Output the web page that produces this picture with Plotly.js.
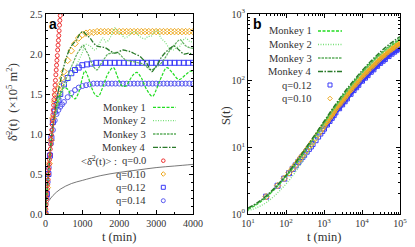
<!DOCTYPE html>
<html><head><meta charset="utf-8">
<script src="https://cdn.plot.ly/plotly-3.0.1.min.js"></script>
<style>html,body{margin:0;padding:0;background:#fff}#c{width:415px;height:247px}</style>
</head><body><div id="c"></div>
<script>
// ---------- Panel a data (t in min, delta^2 in 1e5 m^2) ----------
const m1T=[0,50,100,150,200,300,400,500,600,700,800,900,1000,1070,1150,1250,1350,1430,1550,1700,1840,1950,2075,2180,2290,2400,2480,2600,2750,2900,3000,3150,3290,3450,3620,3800,3950,4000];
const m1V=[0,0.33,0.62,0.88,1.1,1.35,1.5,1.58,1.56,1.48,1.44,1.52,1.7,1.79,1.72,1.58,1.49,1.47,1.58,1.76,1.83,1.72,1.6,1.6,1.68,1.75,1.77,1.7,1.55,1.47,1.55,1.72,1.83,1.76,1.68,1.74,1.79,1.76];
const m2T=[0,50,100,150,200,300,393,500,664,780,881,1000,1071,1207,1342,1450,1559,1640,1722,1800,1885,1960,2051,2150,2238,2330,2427,2550,2698,2780,2861,2940,3024,3130,3241,3350,3458,3550,3648,3730,3811,3900,4000];
const m2V=[0,0.33,0.62,0.88,1.1,1.32,1.45,1.58,1.7,1.8,1.9,2.02,2.12,2.1,2.05,2.12,2.2,2.15,2.18,2.25,2.33,2.27,2.25,2.2,2.22,2.26,2.28,2.22,2.19,2.22,2.22,2.27,2.3,2.2,2.15,2.08,2.05,2.08,2.1,2.17,2.2,2.16,2.15];
const m3T=[0,50,100,150,200,300,393,500,664,760,854,940,1017,1090,1153,1220,1288,1340,1397,1460,1532,1610,1695,1820,1939,2050,2156,2290,2427,2520,2617,2740,2861,2980,3105,3240,3376,3510,3648,3730,3811,3900,4000];
const m3V=[0,0.33,0.62,0.88,1.1,1.3,1.45,1.62,1.8,1.9,2.0,2.06,2.11,2.05,2.0,1.92,1.85,1.82,1.8,1.84,1.9,1.95,2.0,2.01,2.02,1.98,1.93,1.91,1.9,1.89,1.88,1.84,1.8,1.83,1.87,1.95,2.05,2.12,2.18,2.14,2.1,2.08,2.07];
const m4T=[0,50,100,150,200,300,400,500,600,700,846,930,1017,1110,1207,1300,1397,1500,1614,1750,1885,2000,2100,2200,2292,2430,2563,2650,2726,2800,2888,2970,3051,3130,3214,3350,3485,3620,3756,3890,4000];
const m4V=[0,0.33,0.62,0.88,1.1,1.42,1.65,1.85,2.0,2.1,2.18,2.25,2.28,2.24,2.2,2.14,2.1,2.09,2.08,2.04,2.01,2.03,2.05,2.04,2.03,2.0,1.97,1.93,1.9,1.84,1.78,1.83,1.88,1.95,2.0,2.06,2.1,2.05,2.0,2.01,1.99];
const q00T=[0,10,20,30,40,50,60,70,80,90,100,110,120,130,140,150,160,170,180,190,200,210,220,230,240,250,260,270,280,290,300,310,320,330,340,350,360,370,380,390,400];
const q00V=[0,0.06,0.12,0.19,0.25,0.31,0.37,0.43,0.5,0.56,0.62,0.68,0.74,0.81,0.87,0.93,0.99,1.05,1.12,1.18,1.24,1.3,1.36,1.43,1.49,1.55,1.61,1.67,1.74,1.8,1.86,1.92,1.98,2.05,2.11,2.17,2.23,2.29,2.36,2.42,2.48];
const q10T=[0,50,100,150,200,250,300,350,400,450,500,600,700,800,900,1000,1100,1200,1300,1400,1500,1600,1700,1800,1900,2000,2100,2200,2300,2400,2500,2600,2700,2800,2900,3000,3100,3200,3300,3400,3500,3600,3700,3800,3900,4000];
const q10V=[0,0.33,0.63,0.92,1.2,1.4,1.5,1.56,1.62,1.7,1.78,1.92,2.04,2.13,2.2,2.24,2.26,2.27,2.27,2.28,2.28,2.28,2.28,2.28,2.28,2.28,2.28,2.28,2.28,2.28,2.28,2.28,2.28,2.28,2.28,2.28,2.28,2.28,2.28,2.28,2.28,2.28,2.28,2.28,2.28,2.28];
const q12T=[0,40,80,120,160,200,250,300,350,400,500,600,700,800,900,1000,1125,1250,1375,1500,1625,1750,1875,2000,2125,2250,2375,2500,2625,2750,2875,3000,3125,3250,3375,3500,3625,3750,3875,4000];
const q12V=[0,0.25,0.5,0.73,0.95,1.15,1.28,1.36,1.42,1.5,1.62,1.7,1.76,1.8,1.83,1.86,1.87,1.88,1.89,1.89,1.89,1.89,1.89,1.89,1.89,1.89,1.89,1.89,1.89,1.89,1.89,1.89,1.89,1.89,1.89,1.89,1.89,1.89,1.89,1.89];
const q14T=[0,30,60,90,120,150,200,250,300,350,400,450,500,600,700,800,900,1000,1100,1200,1300,1400,1500,1600,1700,1800,1900,2000,2100,2200,2300,2400,2500,2600,2700,2800,2900,3000,3100,3200,3300,3400,3500,3600,3700,3800,3900,4000];
const q14V=[0,0.2,0.4,0.58,0.74,0.88,1.05,1.17,1.25,1.3,1.34,1.37,1.4,1.46,1.51,1.55,1.58,1.6,1.61,1.62,1.63,1.63,1.63,1.63,1.63,1.63,1.63,1.63,1.63,1.63,1.63,1.63,1.63,1.63,1.63,1.63,1.63,1.63,1.63,1.63,1.63,1.63,1.63,1.63,1.63,1.63,1.63,1.63];
const blkT=[0,20,50,100,200,400,700,1000,1500,2000,2500,3000,3500,4000];
const blkV=[0,0.08,0.13,0.17,0.23,0.31,0.38,0.42,0.48,0.52,0.55,0.58,0.6,0.62];

// ---------- Panel b data (S(t)) ----------
const sT=[10,17.8,31.6,56.2,100,178,316,562,1000,1778,3162,5623,10000,17783,31623,56234,100000];
const s1=[1.17,1.41,1.82,2.51,3.63,5.5,8.71,14.1,23.4,38,60.3,91.2,135,191,257,331,417];
const s2=[1.12,1.26,1.51,2.0,2.82,4.27,7.08,12.0,20.9,35.5,56.2,85.1,126,178,245,324,417];
const s3=[1.2,1.45,1.86,2.57,3.72,5.62,8.91,14.1,22.9,37.2,57.5,89.1,132,186,257,339,430];
const s4=[1.23,1.48,1.91,2.63,3.8,5.89,9.33,15.1,24.5,39.8,63.1,95.5,141,200,275,363,457];
const sqT=[30,60,90,120,150,180,210,240,270,300,350,400,450,500,600,700,800,900,1000,1200,1400,1600,1800,2000,2500,3000,3500,4000,5000,6000,7000,8000,10000,12000,14000,17000,20000,25000,30000,35000,40000,50000,60000,70000,80000,90000,100000];
const sq12=[1.82,2.65,3.39,4.09,4.75,5.36,6.0,6.59,7.16,7.71,8.61,9.48,10.3,11.2,12.8,14.5,16.1,17.6,19.1,22.0,24.9,27.7,30.4,33.5,38.6,44.1,49.1,54.1,63.5,72.1,79.6,86.7,100,111,121,136,148,167,185,199,211,234,254,272,287,302,316];
const sq10=[1.82,2.66,3.43,4.17,4.86,5.51,6.21,6.86,7.5,8.13,9.12,10.1,11.0,12.0,13.8,15.7,17.5,19.2,20.9,24.2,27.5,30.6,33.7,37.2,43.2,49.3,55.2,61.0,71.9,81.8,90.8,99.1,115,128,140,157,171,194,215,232,247,274,298,318,337,355,372];

const xTickB=[10,100,1000,10000,100000];
const xTickBText=['10<sup>1</sup>','10<sup>2</sup>','10<sup>3</sup>','10<sup>4</sup>','10<sup>5</sup>'];
const yTickB=[1,10,100,1000];
const yTickBText=['10<sup>0</sup>','10<sup>1</sup>','10<sup>2</sup>','10<sup>3</sup>'];

// ---------- styles ----------
const C1='#22dd22', C2='#77e077', C3='#5fae5f', C4='#2a7a2a';
const D1='3px,1.5px', D2='1px,1.5px', D3='2.5px,1px', D4='5px,1.5px,1.5px,1.5px';
const RED='#ee3333', ORG='#eeaa22', BLU='#3a3af8', BLU2='#5a5af0';
const SERIF='Liberation Serif';
const TXT='#333';

const bandStart=18; // dense region of the marker series (t >= 1000) drawn as a thick band
const traces=[
 {x:blkT,y:blkV,mode:'lines',line:{color:'#555',width:0.8,shape:'spline'},xaxis:'x',yaxis:'y'},
 {x:q14T,y:q14V,mode:'markers',marker:{symbol:'circle-open',size:5,color:BLU2,line:{width:1}},xaxis:'x',yaxis:'y'},
 {x:q12T,y:q12V,mode:'markers',marker:{symbol:'square-open',size:5,color:BLU,line:{width:1}},xaxis:'x',yaxis:'y'},
 {x:q10T,y:q10V,mode:'markers',marker:{symbol:'diamond-open',size:5,color:ORG,line:{width:1}},xaxis:'x',yaxis:'y'},
 {x:m1T,y:m1V,mode:'lines',line:{color:C1,width:1.2,dash:D1,shape:'spline'},xaxis:'x',yaxis:'y'},
 {x:m2T,y:m2V,mode:'lines',line:{color:C2,width:1.2,dash:D2,shape:'spline'},xaxis:'x',yaxis:'y'},
 {x:m3T,y:m3V,mode:'lines',line:{color:C3,width:1.2,dash:D3,shape:'spline'},xaxis:'x',yaxis:'y'},
 {x:m4T,y:m4V,mode:'lines',line:{color:C4,width:1.3,dash:D4,shape:'spline'},xaxis:'x',yaxis:'y'},
 {x:q00T,y:q00V,mode:'markers',marker:{symbol:'circle-open',size:4,color:RED,line:{width:1}},xaxis:'x',yaxis:'y'},
 // panel b
 {x:sqT.slice(bandStart),y:sq12.slice(bandStart),mode:'lines',line:{color:BLU,width:4.5,shape:'spline'},xaxis:'x2',yaxis:'y2'},
 {x:sqT,y:sq12,mode:'markers',marker:{symbol:'square-open',size:5,color:BLU,line:{width:1}},xaxis:'x2',yaxis:'y2'},
 {x:sqT.slice(bandStart),y:sq10.slice(bandStart),mode:'lines',line:{color:ORG,width:3.5,shape:'spline'},xaxis:'x2',yaxis:'y2'},
 {x:sqT,y:sq10,mode:'markers',marker:{symbol:'diamond-open',size:5,color:ORG,line:{width:1}},xaxis:'x2',yaxis:'y2'},
 {x:sT,y:s1,mode:'lines',line:{color:C1,width:1.3,dash:D1,shape:'spline'},xaxis:'x2',yaxis:'y2'},
 {x:sT,y:s2,mode:'lines',line:{color:C2,width:1.3,dash:D2,shape:'spline'},xaxis:'x2',yaxis:'y2'},
 {x:sT,y:s3,mode:'lines',line:{color:C3,width:1.3,dash:D3,shape:'spline'},xaxis:'x2',yaxis:'y2'},
 {x:sT,y:s4,mode:'lines',line:{color:C4,width:1.5,dash:D4,shape:'spline'},xaxis:'x2',yaxis:'y2'}
];

const W=415,H=247;
const px=x=>x/W, py=y=>1-y/H;
const tickFont={family:SERIF,size:10,color:TXT};
const axBase={showline:true,linecolor:'#000',linewidth:1,mirror:'allticks',ticks:'inside',ticklen:4,tickcolor:'#000',showgrid:false,zeroline:false,tickfont:tickFont,fixedrange:true};

const minorLog=[];
for(let e=0;e<5;e++){for(let k=2;k<10;k++){minorLog.push(k*Math.pow(10,e));}}

const shapes=[], ann=[];
function legLine(x0,x1,y,color,dash){shapes.push({type:'line',xref:'paper',yref:'paper',x0:px(x0),x1:px(x1),y0:py(y),y1:py(y),line:{color:color,width:1.3,dash:dash}});}
function legCircle(x,y,r,color){shapes.push({type:'circle',xref:'paper',yref:'paper',x0:px(x-r),x1:px(x+r),y0:py(y+r),y1:py(y-r),line:{color:color,width:1}});}
function legSquare(x,y,r,color){shapes.push({type:'rect',xref:'paper',yref:'paper',x0:px(x-r),x1:px(x+r),y0:py(y+r),y1:py(y-r),line:{color:color,width:1}});}
function legDiamond(x,y,r,color){shapes.push({type:'path',xref:'paper',yref:'paper',path:`M ${px(x)} ${py(y-r)} L ${px(x+r)} ${py(y)} L ${px(x)} ${py(y+r)} L ${px(x-r)} ${py(y)} Z`,line:{color:color,width:1}});}
function txt(x,y,s,anchor,size,extra){ann.push(Object.assign({xref:'paper',yref:'paper',x:px(x),y:py(y),text:s,showarrow:false,xanchor:anchor,yanchor:'middle',font:{family:SERIF,size:size||10.5,color:TXT}},extra||{}));}

const names=['Monkey 1','Monkey 2','Monkey 3','Monkey 4'];
const cols=[C1,C2,C3,C4], dashes=[D1,D2,D3,D4];
const yA=[107.3,120.6,134,147.3];
const yB=[31,44.5,58,71.5];
for(let i=0;i<4;i++){
  txt(148,yA[i],names[i],'right');
  legLine(153,176,yA[i],cols[i],dashes[i]);
  txt(314,yB[i],names[i],'right');
  legLine(318,342,yB[i],cols[i],dashes[i]);
}
txt(79,160.7,'&lt;δ̄<sup>2</sup>(t)&gt; :','left');
const qy=[160.7,174,187.3,200.7];
['q=0.0','q=0.10','q=0.12','q=0.14'].forEach((s,i)=>txt(148,qy[i],s,'right'));
legCircle(163.3,qy[0],1.8,RED);
legDiamond(163.3,qy[1],2.3,ORG);
legSquare(163.3,qy[2],2,BLU);
legCircle(163.3,qy[3],2,BLU2);
txt(314,85,'q=0.12','right');
txt(314,98.5,'q=0.10','right');
legSquare(330,85,2,BLU);
legDiamond(330,98.5,2.3,ORG);

// titles & panel labels
txt(119,237,'t (min)','center',12.5);
txt(324,237,'t (min)','center',12.5);
ann.push({xref:'paper',yref:'paper',x:px(12),y:py(102),text:'δ̄<sup>2</sup>(t)  (×10<sup>5</sup> m<sup>2</sup>)',showarrow:false,textangle:-90,xanchor:'center',yanchor:'middle',font:{family:SERIF,size:12.5,color:TXT}});
ann.push({xref:'paper',yref:'paper',x:px(226),y:py(116),text:'S(t)',showarrow:false,textangle:-90,xanchor:'center',yanchor:'middle',font:{family:SERIF,size:12.5,color:TXT}});
ann.push({xref:'paper',yref:'paper',x:px(53),y:py(24),text:'<b>a</b>',showarrow:false,xanchor:'center',yanchor:'middle',font:{family:'Liberation Sans',size:14,color:'#000'}});
ann.push({xref:'paper',yref:'paper',x:px(257),y:py(24),text:'<b>b</b>',showarrow:false,xanchor:'center',yanchor:'middle',font:{family:'Liberation Sans',size:14,color:'#000'}});

const layout={
  width:W,height:H,margin:{l:0,r:0,t:0,b:0},paper_bgcolor:'#fff',plot_bgcolor:'#fff',showlegend:false,
  font:{family:SERIF,color:TXT},
  xaxis:Object.assign({},axBase,{domain:[px(45.5),px(193)],range:[0,4000],tickmode:'linear',tick0:0,dtick:1000,anchor:'y',
    minor:{ticks:'inside',ticklen:2,tickcolor:'#000',dtick:500,showgrid:false}}),
  yaxis:Object.assign({},axBase,{domain:[py(214),py(14)],range:[0,2.5],tickmode:'linear',tick0:0,dtick:0.5,tickformat:'.1f',anchor:'x',
    minor:{ticks:'inside',ticklen:2,tickcolor:'#000',dtick:0.1,showgrid:false}}),
  xaxis2:Object.assign({},axBase,{domain:[px(248),px(400)],type:'log',range:[1,5],tickmode:'array',tickvals:xTickB,ticktext:xTickBText,anchor:'y2',
    minor:{ticks:'inside',ticklen:2,tickcolor:'#000',tickmode:'array',tickvals:minorLog,showgrid:false}}),
  yaxis2:Object.assign({},axBase,{domain:[py(214),py(14)],type:'log',range:[0,3],tickmode:'array',tickvals:yTickB,ticktext:yTickBText,anchor:'x2',
    minor:{ticks:'inside',ticklen:2,tickcolor:'#000',tickmode:'array',tickvals:minorLog,showgrid:false}}),
  shapes:shapes,annotations:ann
};
Plotly.newPlot('c',traces,layout,{staticPlot:true,displayModeBar:false});
</script></body></html>
